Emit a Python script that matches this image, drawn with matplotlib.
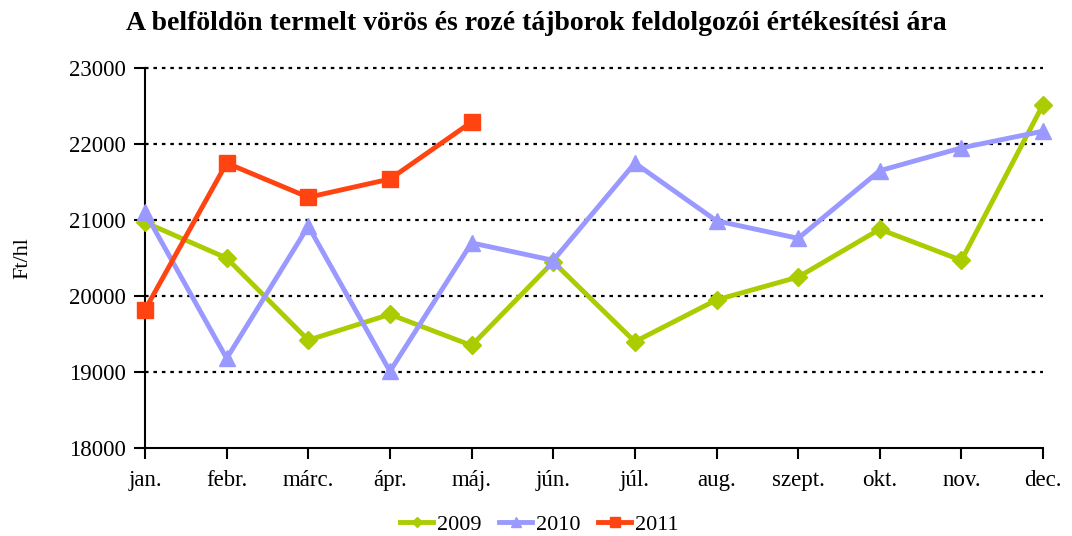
import matplotlib
matplotlib.use('Agg')
import matplotlib.pyplot as plt
import numpy as np

plt.rcParams['font.family'] = ['Liberation Serif', 'DejaVu Serif']

months = ['jan.', 'febr.', 'márc.', 'ápr.', 'máj.', 'jún.', 'júl.', 'aug.',
          'szept.', 'okt.', 'nov.', 'dec.']
y2009 = [20970, 20500, 19420, 19760, 19350, 20450, 19400, 19950, 20250, 20880, 20470, 22520]
y2010 = [21100, 19180, 20920, 19010, 20700, 20470, 21750, 20990, 20760, 21650, 21950, 22170]
y2011 = [19820, 21750, 21300, 21540, 22290]

fig = plt.figure(figsize=(10.72, 5.36), dpi=100)
ax = fig.add_axes([0.1353, 0.164, 0.8377, 0.709])

yt = np.arange(18000, 23001, 1000)
for v in yt[1:]:
    ax.axhline(v, color='black', ls=(0, (1.6, 2.2)), lw=1.6, clip_on=False, zorder=1)

x = np.arange(len(months))
ax.plot(x, y2009, color='#AACC00', lw=3.5, marker='D', ms=9, label='2009', clip_on=False, zorder=3)
ax.plot(x, y2010, color='#9999FF', lw=3.5, marker='^', ms=12, label='2010', clip_on=False, zorder=3)
ax.plot(x[:len(y2011)], y2011, color='#FF4411', lw=3.5, marker='s', ms=11, label='2011', clip_on=False, zorder=4)

ax.set_xlim(0, 11)
ax.set_ylim(18000, 23000)
ax.set_yticks(yt)
ax.set_xticks(x)
ax.set_xticklabels(months)
for s in ['top', 'right']:
    ax.spines[s].set_visible(False)
ax.spines['left'].set_linewidth(1.5)
ax.spines['bottom'].set_linewidth(1.5)
ax.tick_params(direction='out', length=8, width=1.5, labelsize=16.5)
ax.tick_params(axis='x', pad=8)
ax.tick_params(axis='y', pad=6)
ax.set_ylabel('Ft/hl', fontsize=16, labelpad=26)

fig.suptitle('A belföldön termelt vörös és rozé tájborok feldolgozói értékesítési ára',
             fontsize=20, fontweight='bold', y=0.98)
fig.legend(loc='lower center', ncol=3, frameon=False, fontsize=16,
           bbox_to_anchor=(0.503, -0.035), handlelength=1.5, handletextpad=0.15,
           columnspacing=0.8, markerscale=0.6)

fig.savefig('out.png', dpi=100)
